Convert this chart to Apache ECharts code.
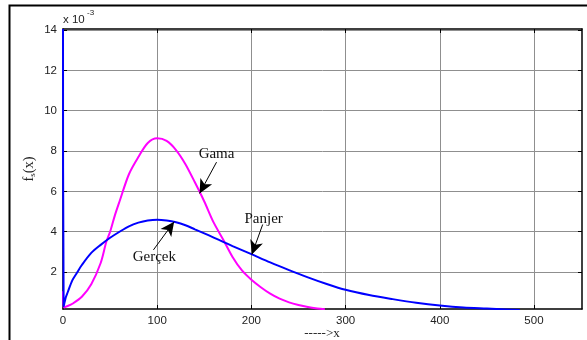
<!DOCTYPE html>
<html>
<head>
<meta charset="utf-8">
<script src="https://cdn.jsdelivr.net/npm/echarts@6/dist/echarts.min.js"></script>
<style>
  html, body { margin: 0; padding: 0; background: #fff; }
  #chart { width: 587px; height: 340px; }
</style>
</head>
<body>
<div id="chart"></div>
<script>
// Axis ticks (y values are in units of 1e-3)
const xTicks = [0, 100, 200, 300, 400, 500];
const yTicks = [2, 4, 6, 8, 10, 12, 14];

// Blue curve: true distribution / Panjer recursion (f_s(x) x 1e3)
const xPanjer = [0, 0.7, 3, 5, 10, 15, 20, 30, 40, 50, 60, 70, 80, 90, 100, 110, 120, 130, 140, 150,
  160, 170, 180, 190, 200, 220, 240, 260, 280, 300, 325, 350, 375, 400, 425, 450, 470, 485];
const yPanjer = [14.05, 0.3, 0.75, 1.0, 1.6, 1.98, 2.35, 2.95, 3.35, 3.7, 4.0, 4.27, 4.45, 4.56, 4.6, 4.56, 4.47, 4.32, 4.12, 3.92,
  3.71, 3.5, 3.29, 3.09, 2.89, 2.48, 2.1, 1.74, 1.41, 1.12, 0.86, 0.66, 0.48, 0.34, 0.24, 0.19, 0.15, 0.12];

// Magenta curve: gamma approximation
const xGama = [0, 0.7, 5, 10, 20, 30, 40, 46, 50, 55, 60, 70, 80, 90, 100, 110, 120, 130, 140, 150,
  160, 170, 180, 190, 200, 210, 220, 230, 240, 250, 260, 270, 278];
const yGama = [1.05, 0.25, 0.32, 0.43, 0.78, 1.4, 2.45, 3.5, 4.0, 4.8, 5.5, 6.85, 7.7, 8.4, 8.63, 8.5, 8.05, 7.35, 6.45, 5.5,
  4.45, 3.62, 2.75, 2.08, 1.62, 1.25, 0.93, 0.68, 0.5, 0.37, 0.27, 0.2, 0.16];

// Annotation arrows: [text, textX, textY, fromX, fromY, toX, toY] in data units
const notes = [
  ['Gama', 163, 7.83, 163, 7.45, 145, 5.9],
  ['Panjer', 213, 4.62, 212, 4.36, 200.5, 2.87],
  ['Gerçek', 97, 2.72, 96, 3.1, 118, 4.5]
];

const pairs = (xs, ys) => xs.map((x, i) => [x, ys[i]]);

const X_MIN = 0, X_MAX = 551;
const Y_MIN = 0.17, Y_MAX = 14.05;

const tickFont = { fontFamily: 'Liberation Sans, Arial, sans-serif', fontSize: 11.5, color: '#222' };
const serif = 'Liberation Serif, Times New Roman, serif';

function xAxisDef(pos, labels) {
  return {
    type: 'value', position: pos, min: X_MIN, max: X_MAX,
    axisLine: { show: true, onZero: false, lineStyle: { color: '#000', width: 1.5 } },
    axisTick: { show: true, inside: true, length: 4, customValues: xTicks, lineStyle: { color: '#000' } },
    axisLabel: labels ? Object.assign({ show: true, customValues: xTicks, margin: 6 }, tickFont) : { show: false },
    splitLine: { show: labels, lineStyle: { color: '#8f8f8f', width: 1 } }
  };
}
function yAxisDef(pos, labels) {
  return {
    type: 'value', position: pos, min: Y_MIN, max: Y_MAX,
    axisLine: { show: true, onZero: false, lineStyle: { color: '#000', width: 1.5 } },
    axisTick: { show: true, inside: true, length: 4, customValues: yTicks, lineStyle: { color: '#000' } },
    axisLabel: labels ? Object.assign({ show: true, customValues: yTicks, margin: 6 }, tickFont) : { show: false },
    splitLine: { show: labels, lineStyle: { color: '#8f8f8f', width: 1 } }
  };
}

const chart = echarts.init(document.getElementById('chart'), null, { renderer: 'canvas' });

const arrowLines = notes.map(n => [
  { coord: [n[3], n[4]], symbol: 'none' },
  { coord: [n[5], n[6]], symbol: 'arrow', symbolSize: [10, 14] }
]);
const noteLabels = notes.map(n => ({
  coord: [n[1], n[2]], symbol: 'circle', symbolSize: 0,
  label: { show: true, position: 'inside', formatter: n[0], fontFamily: serif, fontSize: 15, color: '#111' }
}));

chart.setOption({
  animation: false,
  grid: { left: 63, top: 29, width: 519, height: 280, show: false },
  xAxis: [xAxisDef('bottom', true), xAxisDef('top', false)],
  yAxis: [yAxisDef('left', true), yAxisDef('right', false)],
  graphic: [
    { type: 'rect', shape: { x: 9.5, y: 5.5, width: 620, height: 380 }, style: { fill: 'none', stroke: '#000', lineWidth: 2 }, silent: true },
    { type: 'text', x: 63, y: 14, style: { text: 'x 10', font: '11.5px Liberation Sans, Arial, sans-serif', fill: '#222' } },
    { type: 'text', x: 87, y: 9, style: { text: '-3', font: '8px Liberation Sans, Arial, sans-serif', fill: '#222' } },
    { type: 'text', x: 322, y: 334, style: { text: '----->x', font: '13px ' + serif, fill: '#222', align: 'center', verticalAlign: 'middle' } },
    {
      type: 'text', x: 29, y: 169, rotation: Math.PI / 2,
      style: {
        text: '{f|f}{s|s}{f|(x)}', align: 'center', verticalAlign: 'middle',
        rich: { f: { fontFamily: serif, fontSize: 14.5, fill: '#222' }, s: { fontFamily: serif, fontSize: 9, fill: '#222', padding: [7, 0, 0, 0] } }
      }
    }
  ],
  series: [
    {
      name: 'Panjer', type: 'line', data: pairs(xPanjer, yPanjer), showSymbol: false, clip: true,
      smooth: 0.3,
      lineStyle: { color: '#0000ff', width: 2 }, itemStyle: { color: '#0000ff' }, z: 3
    },
    {
      name: 'Gama', type: 'line', data: pairs(xGama, yGama), showSymbol: false, clip: true,
      smooth: 0.3,
      lineStyle: { color: '#ff00ff', width: 2 }, itemStyle: { color: '#ff00ff' }, z: 2,
      markLine: {
        silent: true, animation: false, symbol: ['none', 'arrow'],
        label: { show: false },
        lineStyle: { color: '#000', width: 1, type: 'solid' },
        emphasis: { disabled: true },
        data: arrowLines
      },
      markPoint: { silent: true, animation: false, data: noteLabels }
    }
  ]
});
</script>
</body>
</html>
